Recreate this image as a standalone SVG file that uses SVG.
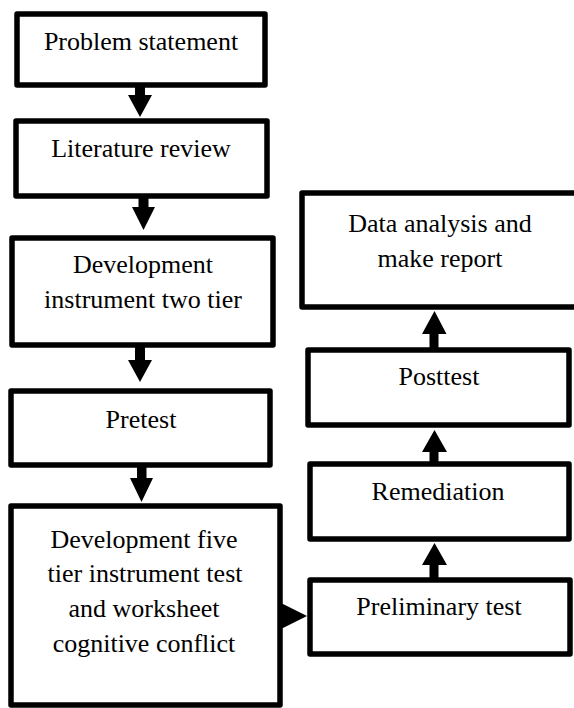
<svg xmlns="http://www.w3.org/2000/svg" width="574" height="708" viewBox="0 0 574 708" font-family="Liberation Serif, Times New Roman, DejaVu Serif, serif">
<style>
.box{fill:#fff;stroke:#000;stroke-width:5.5;stroke-linejoin:round}
.t{font-size:26px;fill:#000;text-anchor:middle}
.arr{fill:#000}
</style>
<rect width="574" height="708" fill="#fff"/>
<g id="problem"><rect class="box" x="17" y="14" width="248" height="71"/><text class="t" font-family="Liberation Serif, serif" x="141" y="50">Problem statement</text></g>
<g id="literature"><rect class="box" x="16" y="121" width="251" height="75"/><text class="t" x="141" y="157">Literature review</text></g>
<g id="devtwotier"><rect class="box" x="12" y="238" width="261" height="107"/><text class="t" x="143" y="273">Development</text><text class="t" x="143" y="308">instrument two tier</text></g>
<g id="pretest"><rect class="box" x="11" y="391" width="259" height="74"/><text class="t" x="141" y="428">Pretest</text></g>
<g id="devfivetier"><rect class="box" x="11" y="506" width="269" height="199"/><text class="t" x="144" y="548">Development five</text><text class="t" x="145" y="582">tier instrument test</text><text class="t" x="144" y="617">and worksheet</text><text class="t" x="144" y="652">cognitive conflict</text></g>
<g id="data"><rect class="box" x="302" y="193" width="280" height="114"/><text class="t" x="440" y="232">Data analysis and</text><text class="t" x="440" y="267">make report</text></g>
<g id="posttest"><rect class="box" x="308" y="350" width="261" height="75"/><text class="t" x="439" y="385">Posttest</text></g>
<g id="remediation"><rect class="box" x="310" y="464" width="259" height="75"/><text class="t" x="438" y="500">Remediation</text></g>
<g id="preliminary"><rect class="box" x="310" y="580" width="260" height="74"/><text class="t" x="439" y="615">Preliminary test</text></g>
<g id="connectors" class="arr">
<path d="M135,86 H145 V95 H152 L140,117 L128,95 H135 Z"/>
<path d="M138.5,197 H148.5 V207 H155 L143.5,230 L132,207 H138.5 Z"/>
<path d="M135,346 H145 V360 H152 L140,382 L128,360 H135 Z"/>
<path d="M137,466 H146.5 V478 H153 L141.5,502 L130,478 H137 Z"/>
<path d="M281,603 L307,616 L281,629 Z"/>
<path d="M429.5,579 H438.5 V565 H447 L434.5,543 L422,565 H429.5 Z"/>
<path d="M429.5,463 H438.5 V452 H447 L434.5,430 L422,452 H429.5 Z"/>
<path d="M429.5,349 H438.5 V334 H446.5 L434.5,311 L422,334 H429.5 Z"/>
</g>
</svg>
